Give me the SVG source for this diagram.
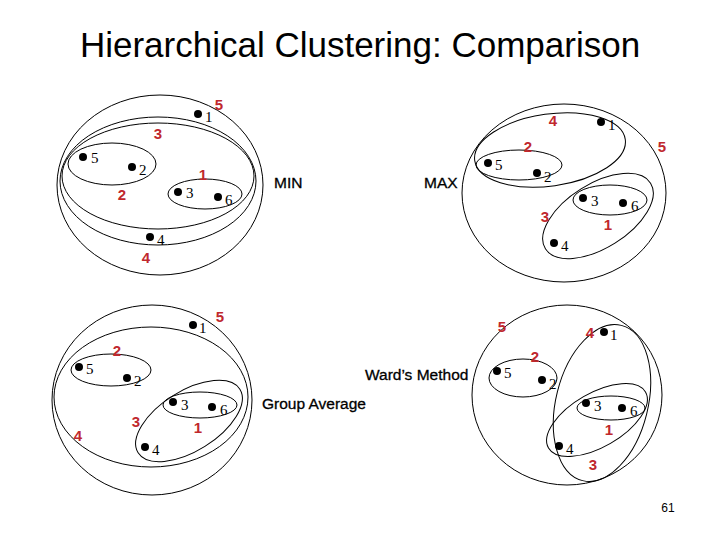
<svg xmlns="http://www.w3.org/2000/svg" width="720" height="540" viewBox="0 0 720 540">
<style>
.c{fill:none;stroke:#000;stroke-width:1}
.d{fill:#000}
.n{font-family:"Liberation Serif",serif;font-size:15px;fill:#000}
.r{font-family:"Liberation Sans",sans-serif;font-size:15px;font-weight:bold;fill:#c0282d}
.m{font-family:"Liberation Sans",sans-serif;font-size:15.5px;fill:#000;stroke:#000;stroke-width:0.3}
</style>
<rect width="720" height="540" fill="#fff"/>
<text x="360" y="57" text-anchor="middle" font-family="Liberation Sans,sans-serif" font-size="35" fill="#000">Hierarchical Clustering: Comparison</text>
<g id="connectors">
<ellipse class="c" cx="112" cy="164" rx="44" ry="21"/>
<ellipse class="c" cx="205" cy="194" rx="37" ry="15"/>
<ellipse class="c" cx="158" cy="176" rx="96" ry="53"/>
<ellipse class="c" cx="158" cy="181" rx="98" ry="64"/>
<ellipse class="c" cx="160" cy="185" rx="103" ry="90"/>
<ellipse class="c" cx="519" cy="165" rx="43" ry="15"/>
<ellipse class="c" cx="550" cy="150" rx="76" ry="36" transform="rotate(-8 550 150)"/>
<ellipse class="c" cx="610" cy="200" rx="37" ry="15"/>
<ellipse class="c" cx="598" cy="216" rx="62" ry="32" transform="rotate(-32 598 216)"/>
<ellipse class="c" cx="564" cy="193" rx="102" ry="89"/>
<ellipse class="c" cx="111" cy="370" rx="40" ry="16"/>
<ellipse class="c" cx="200" cy="405" rx="37" ry="13"/>
<ellipse class="c" cx="189" cy="421" rx="60" ry="30" transform="rotate(-32 189 421)"/>
<ellipse class="c" cx="151" cy="397" rx="97" ry="70"/>
<ellipse class="c" cx="152" cy="400" rx="100" ry="95"/>
<ellipse class="c" cx="523" cy="378" rx="34" ry="19"/>
<ellipse class="c" cx="611" cy="408" rx="34" ry="12"/>
<ellipse class="c" cx="597" cy="420" rx="56" ry="27" transform="rotate(-30 597 420)"/>
<ellipse class="c" cx="602" cy="403" rx="46" ry="80" transform="rotate(14 602 403)"/>
<ellipse class="c" cx="567" cy="395" rx="95" ry="90"/>
</g>
<g id="min">
<circle class="d" cx="198" cy="114" r="4"/><text class="n" x="205" y="122">1</text>
<circle class="d" cx="83" cy="157" r="4"/><text class="n" x="91" y="163">5</text>
<circle class="d" cx="132" cy="167" r="4"/><text class="n" x="139" y="175">2</text>
<circle class="d" cx="178" cy="192" r="4"/><text class="n" x="186" y="198">3</text>
<circle class="d" cx="218" cy="197" r="4"/><text class="n" x="225" y="205">6</text>
<circle class="d" cx="150" cy="237" r="4"/><text class="n" x="157" y="245">4</text>
<text class="r" x="219" y="110" text-anchor="middle">5</text>
<text class="r" x="158" y="139" text-anchor="middle">3</text>
<text class="r" x="122" y="200" text-anchor="middle">2</text>
<text class="r" x="203" y="180" text-anchor="middle">1</text>
<text class="r" x="146" y="263" text-anchor="middle">4</text>
<text class="m" x="274" y="188">MIN</text>
</g>
<g id="max">
<circle class="d" cx="601" cy="122" r="4"/><text class="n" x="608" y="130">1</text>
<circle class="d" cx="488" cy="163" r="4"/><text class="n" x="495" y="170">5</text>
<circle class="d" cx="537" cy="173" r="4"/><text class="n" x="544" y="182">2</text>
<circle class="d" cx="583" cy="198" r="4"/><text class="n" x="591" y="206">3</text>
<circle class="d" cx="623" cy="203" r="4"/><text class="n" x="631" y="211">6</text>
<circle class="d" cx="554" cy="243" r="4"/><text class="n" x="561" y="251">4</text>
<text class="r" x="553" y="126" text-anchor="middle">4</text>
<text class="r" x="528" y="152" text-anchor="middle">2</text>
<text class="r" x="662" y="152" text-anchor="middle">5</text>
<text class="r" x="545" y="222" text-anchor="middle">3</text>
<text class="r" x="608" y="230" text-anchor="middle">1</text>
<text class="m" x="424" y="188">MAX</text>
</g>
<g id="groupavg">
<circle class="d" cx="193" cy="325" r="4"/><text class="n" x="199" y="333">1</text>
<circle class="d" cx="79" cy="367" r="4"/><text class="n" x="86" y="374">5</text>
<circle class="d" cx="127" cy="378" r="4"/><text class="n" x="134" y="386">2</text>
<circle class="d" cx="173" cy="402" r="4"/><text class="n" x="181" y="410">3</text>
<circle class="d" cx="212" cy="407" r="4"/><text class="n" x="220" y="415">6</text>
<circle class="d" cx="145" cy="447" r="4"/><text class="n" x="152" y="455">4</text>
<text class="r" x="220" y="322" text-anchor="middle">5</text>
<text class="r" x="117" y="356" text-anchor="middle">2</text>
<text class="r" x="136" y="427" text-anchor="middle">3</text>
<text class="r" x="198" y="433" text-anchor="middle">1</text>
<text class="r" x="78" y="441" text-anchor="middle">4</text>
<text class="m" x="262" y="409">Group Average</text>
</g>
<g id="ward">
<circle class="d" cx="604" cy="332" r="4"/><text class="n" x="610" y="340">1</text>
<circle class="d" cx="497" cy="371" r="4"/><text class="n" x="504" y="378">5</text>
<circle class="d" cx="542" cy="380" r="4"/><text class="n" x="549" y="389">2</text>
<circle class="d" cx="586" cy="403" r="4"/><text class="n" x="594" y="411">3</text>
<circle class="d" cx="622" cy="408" r="4"/><text class="n" x="630" y="416">6</text>
<circle class="d" cx="559" cy="446" r="4"/><text class="n" x="566" y="454">4</text>
<text class="r" x="502" y="332" text-anchor="middle">5</text>
<text class="r" x="590" y="338" text-anchor="middle">4</text>
<text class="r" x="535" y="362" text-anchor="middle">2</text>
<text class="r" x="609" y="435" text-anchor="middle">1</text>
<text class="r" x="593" y="470" text-anchor="middle">3</text>
<text class="m" x="365" y="380">Ward’s Method</text>
</g>
<text x="668" y="512" text-anchor="middle" font-family="Liberation Sans,sans-serif" font-size="12" fill="#000">61</text>
</svg>
